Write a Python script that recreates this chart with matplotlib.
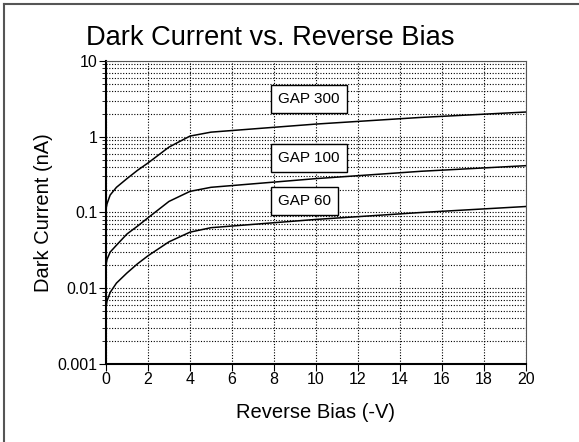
import matplotlib.pyplot as plt
import matplotlib.ticker as mticker
from matplotlib.lines import Line2D

plt.rcParams['font.family'] = ['Liberation Sans', 'DejaVu Sans']

# Reverse bias (-V) and dark current (nA)
bias = [0, 0.05, 0.2, 0.5, 1.0, 1.5, 2.0, 3.0, 4.0, 5.0, 10.0, 15.0, 20.0]
gap300 = [0.11, 0.13, 0.17, 0.215, 0.28, 0.36, 0.45, 0.73, 1.02, 1.15, 1.47, 1.8, 2.12]
gap100 = [0.02, 0.024, 0.03, 0.037, 0.052, 0.066, 0.085, 0.14, 0.19, 0.215, 0.28, 0.35, 0.415]
gap60 = [0.0055, 0.0068, 0.0088, 0.0117, 0.0159, 0.021, 0.0268, 0.041, 0.055, 0.063, 0.081, 0.1, 0.12]
labels = ["GAP 300", "GAP 100", "GAP 60"]
label_pos = [(8.2, 3.15), (8.2, 0.52), (8.2, 0.143)]

fig = plt.figure(figsize=(5.79, 4.42), dpi=100)
ax = fig.add_axes([0.183, 0.1765, 0.7255, 0.6855])

for ys in (gap300, gap100, gap60):
    ax.plot(bias, ys, color="black", lw=1.1)

for lab, (x, y) in zip(labels, label_pos):
    ax.text(x, y, lab, fontsize=11, ha="left", va="center",
            bbox=dict(boxstyle="square,pad=0.45", fc="white", ec="black", lw=1))

ax.set_yscale("log")
ax.set_xlim(0, 20)
ax.set_ylim(0.001, 10)
ax.set_xticks(range(0, 21, 2))
ax.yaxis.set_major_locator(mticker.LogLocator(base=10, numticks=10))
ax.yaxis.set_minor_locator(mticker.LogLocator(base=10, subs=range(2, 10), numticks=10))
ax.yaxis.set_major_formatter(mticker.FuncFormatter(lambda v, p: "%g" % v))
ax.yaxis.set_minor_formatter(mticker.NullFormatter())
ax.grid(True, which="major", axis="x", color="black", ls=(0, (1, 1.5)), lw=0.8)
ax.grid(True, which="both", axis="y", color="black", ls=(0, (1, 1.5)), lw=0.8)
ax.tick_params(which="both", direction="out", labelsize=11.5, pad=1)
ax.tick_params(which="major", length=5)
ax.tick_params(which="minor", length=3)
for s in ("top", "right"):
    ax.spines[s].set_linewidth(0.8)
    ax.spines[s].set_color("#555555")
for s in ("left", "bottom"):
    ax.spines[s].set_linewidth(1.5)

ax.set_xlabel("Reverse Bias (-V)", fontsize=14.5, labelpad=11)
ax.set_ylabel("Dark Current (nA)", fontsize=14.5, labelpad=3)
fig.text(0.466, 0.915, "Dark Current vs. Reverse Bias", fontsize=19.6, ha="center", va="center")

# figure frame (left and top edges)
fig.add_artist(Line2D([4 / 579, 4 / 579], [0, 1 - 4 / 442], transform=fig.transFigure, color="#555555", lw=1.5))
fig.add_artist(Line2D([4 / 579, 1], [1 - 4 / 442, 1 - 4 / 442], transform=fig.transFigure, color="#555555", lw=1.5))

fig.savefig("out.png", dpi=100)
